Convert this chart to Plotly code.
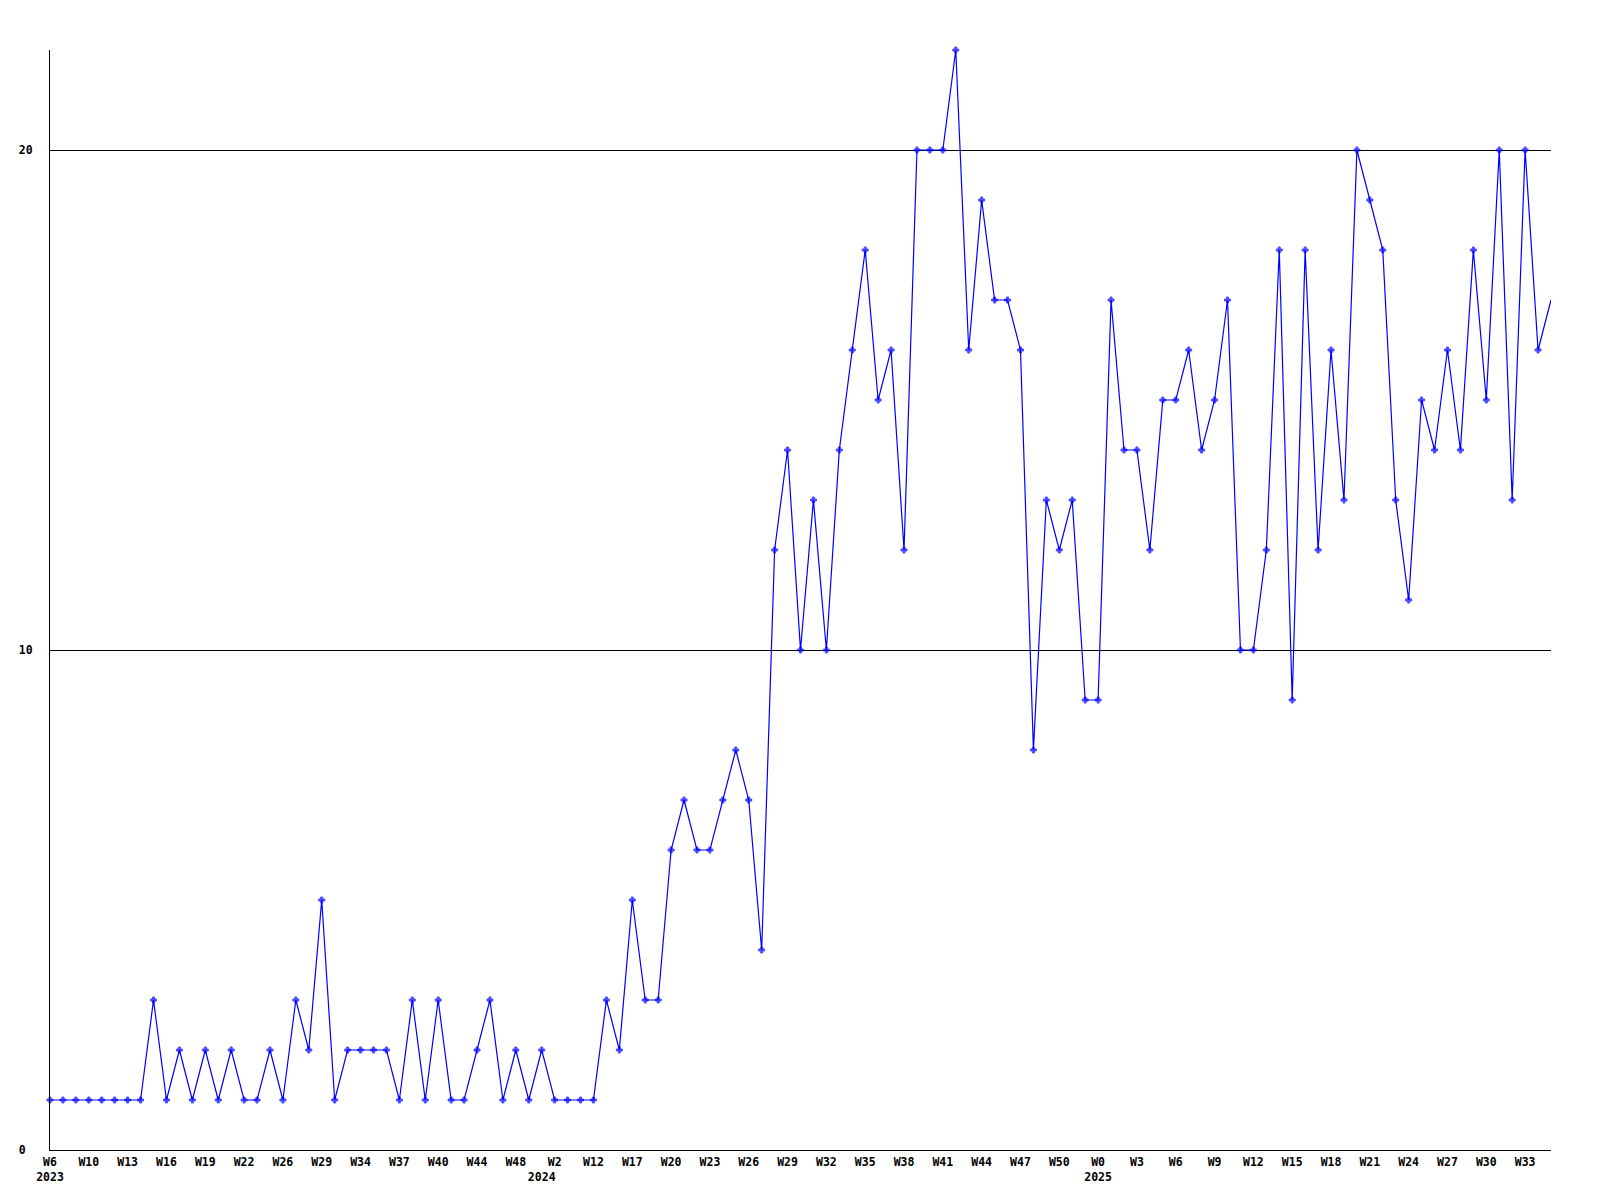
import plotly.graph_objects as go

# Weekly counts, one value per plotted point (left to right)
values = [
    1, 1, 1, 1, 1, 1, 1, 1, 3, 1,
    2, 1, 2, 1, 2, 1, 1, 2, 1, 3,
    2, 5, 1, 2, 2, 2, 2, 1, 3, 1,
    3, 1, 1, 2, 3, 1, 2, 1, 2, 1,
    1, 1, 1, 3, 2, 5, 3, 3, 6, 7,
    6, 6, 7, 8, 7, 4, 12, 14, 10, 13,
    10, 14, 16, 18, 15, 16, 12, 20, 20, 20,
    22, 16, 19, 17, 17, 16, 8, 13, 12, 13,
    9, 9, 17, 14, 14, 12, 15, 15, 16, 14,
    15, 17, 10, 10, 12, 18, 9, 18, 12, 16,
    13, 20, 19, 18, 13, 11, 15, 14, 16, 14,
    18, 15, 20, 13, 20, 16, 17,
]

# Week tick labels, shown on every third point
week_labels = [
    "W6", "W10", "W13", "W16", "W19", "W22", "W26", "W29", "W34", "W37",
    "W40", "W44", "W48", "W2", "W12", "W17", "W20", "W23", "W26", "W29",
    "W32", "W35", "W38", "W41", "W44", "W47", "W50", "W0", "W3", "W6",
    "W9", "W12", "W15", "W18", "W21", "W24", "W27", "W30", "W33",
]

# Year labels and the index of the first point belonging to each year
years = ["2023", "2024", "2025"]
year_first_point = [0, 38, 81]

y_ticks = [0, 10, 20]
y_tick_text = ["0\u00a0", "10", "20"]

n = len(values)
x = list(range(n))
tick_step = 3
week_tickvals = [i * tick_step for i in range(len(week_labels))]

marker_sizes = [5] * (n - 1) + [0]

font = dict(family="DejaVu Sans Mono", size=11.5, color="black", weight="bold")

fig = go.Figure()
fig.add_trace(go.Scatter(
    x=x, y=values, mode="lines+markers",
    line=dict(color="#0000ff", width=1.2),
    marker=dict(symbol="cross", size=marker_sizes, color="#0000ff",
                line=dict(color="#0000ff", width=1)),
    cliponaxis=False,
    showlegend=False, hoverinfo="x+y",
))
# helper trace so the year axis is drawn
fig.add_trace(go.Scatter(
    x=[0], y=[0], xaxis="x2", yaxis="y", mode="markers",
    marker=dict(opacity=0), showlegend=False, hoverinfo="skip",
))

# page body has an 8px default margin, so the figure is sized to fit the window
fig.update_layout(
    width=1592, height=1192,
    margin=dict(l=42, r=49, t=42, b=50),
    paper_bgcolor="white", plot_bgcolor="white",
    font=font,
    showlegend=False,
    xaxis=dict(
        range=[0, n - 1],
        tickmode="array", tickvals=week_tickvals, ticktext=week_labels,
        showgrid=False, zeroline=False,
        showline=True, linecolor="black", linewidth=1,
        ticks="", tickangle=0, tickfont=font,
        ticklabelstandoff=1,
    ),
    xaxis2=dict(
        range=[0, n - 1], overlaying="x", side="bottom", anchor="y",
        tickmode="array", tickvals=year_first_point, ticktext=years,
        showgrid=False, zeroline=False, showline=False,
        ticks="", tickangle=0, tickfont=font,
        ticklabelstandoff=18,
    ),
    yaxis=dict(
        range=[0, 22],
        tickmode="array", tickvals=y_ticks, ticktext=y_tick_text,
        showgrid=True, gridcolor="black", gridwidth=1,
        zeroline=False,
        showline=True, linecolor="black", linewidth=1,
        ticks="", tickfont=font,
        ticklabelstandoff=14,
    ),
)

fig.write_html("out.html")
